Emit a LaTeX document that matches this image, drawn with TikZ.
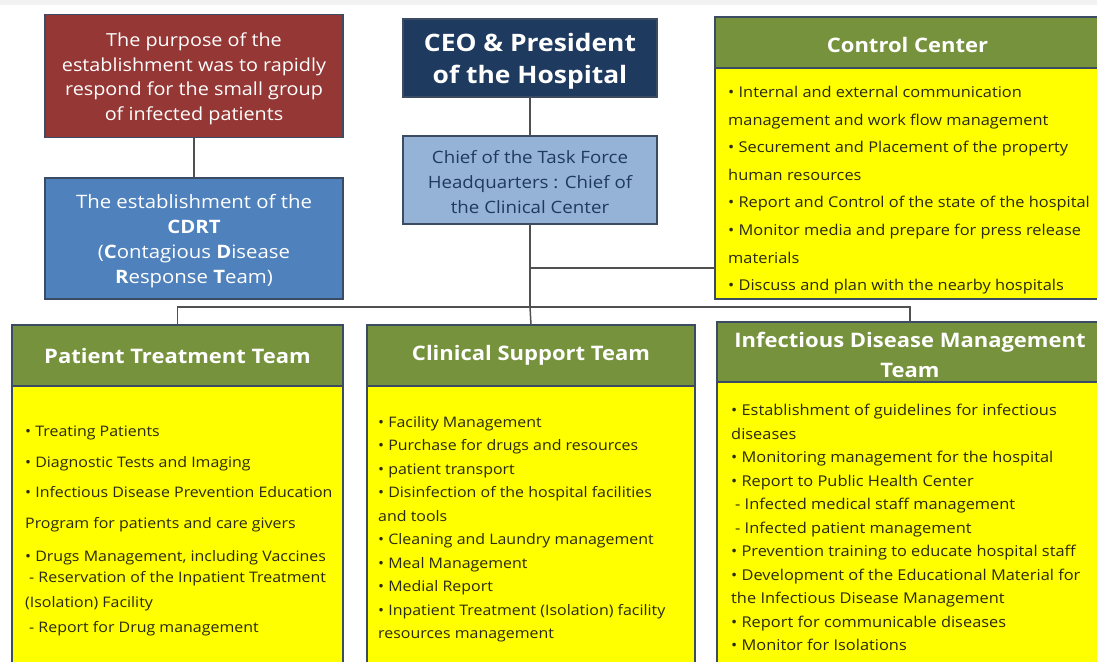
\documentclass[tikz,border=0pt]{standalone}
\usepackage{fontspec}
\setmainfont{Open Sans}[FakeStretch=1.1]
\usetikzlibrary{positioning}
\definecolor{purposered}{HTML}{953735}
\definecolor{cdrtblue}{HTML}{4F81BD}
\definecolor{ceonavy}{HTML}{1F3A5F}
\definecolor{chiefblue}{HTML}{95B3D7}
\definecolor{teamgreen}{HTML}{76923C}
\definecolor{listyellow}{HTML}{FFFF00}
\definecolor{edgeblue}{HTML}{3A4B63}
\definecolor{linkgray}{HTML}{505050}
\definecolor{listtext}{HTML}{2A2A10}
\newcommand{\lift}[1]{\rule{0pt}{#1}}

\begin{document}
\begin{tikzpicture}[x=1pt, y=-1pt,
  box/.style={rectangle, draw=edgeblue, line width=1.2pt, inner sep=0pt, outer sep=0pt, align=center},
  head/.style={box, fill=teamgreen, text=white, anchor=north west,
               font=\bfseries\fontsize{20}{30}\selectfont},
  body/.style={box, fill=listyellow, below=0pt of #1},
  list/.style={anchor=north west, inner sep=0pt, align=left, text=listtext,
               font=\fontsize{14.5}{23.5}\selectfont},
  link/.style={draw=linkgray, line width=1.5pt}
]
\clip (0,0) rectangle (1097,661);
\fill[gray!10] (0,0) rectangle (1097,5);

\node[box, fill=purposered, text=white, minimum width=298, minimum height=123,
      font=\fontsize{18}{24.5}\selectfont] (purpose) at (194,76)
  {\lift{19.5pt}The purpose of the\\establishment was to rapidly\\respond for the small group\\of infected patients};
\node[box, fill=cdrtblue, text=white, minimum width=298, minimum height=121,
      font=\fontsize{18.5}{25}\selectfont] (cdrt) at (194,238.5)
  {\lift{20pt}The establishment of the\\\textbf{CDRT}\\(\textbf{C}ontagious \textbf{D}isease\\\textbf{R}esponse \textbf{T}eam)};

\node[box, fill=ceonavy, text=white, minimum width=254, minimum height=78,
      font=\bfseries\fontsize{24}{32}\selectfont] (ceo) at (530,58)
  {\lift{24.5pt}CEO \& President\\of the Hospital};
\node[box, fill=chiefblue, text=ceonavy, minimum width=254, minimum height=88,
      font=\fontsize{17}{25}\selectfont] (chief) at (530,180)
  {\lift{17pt}Chief of the Task Force\\Headquarters : Chief of\\the Clinical Center};

\node[head, minimum width=385, minimum height=51] (cchead) at (715,17) {\lift{20pt}Control Center};
\node[body=cchead, minimum width=385, minimum height=231] (ccbody) {};
\node[list, font=\fontsize{14.9}{27.6}\selectfont, xshift=13pt, yshift=-18pt] (cclist) at (ccbody.north west)
  {• Internal and external communication\\
   management and work flow management\\
   • Securement and Placement of the property\\
   human resources\\
   • Report and Control of the state of the hospital\\
   • Monitor media and prepare for press release\\
   materials\\
   • Discuss and plan with the nearby hospitals};

\node[head, minimum width=331, minimum height=61] (ptthead) at (12,325) {Patient Treatment Team};
\node[body=ptthead, minimum width=331, minimum height=290] (pttbody) {};
\node[list, font=\fontsize{14.5}{25}\selectfont, xshift=13pt, yshift=-40pt] (pttlist) at (pttbody.north west)
  {• Treating Patients\\[6pt]
   • Diagnostic Tests and Imaging\\[5pt]
   • Infectious Disease Prevention Education\\[6pt]
   Program for patients and care givers\\[8pt]
   • Drugs Management, including Vaccines\\[-4pt]
   \hspace{4pt}- Reservation of the Inpatient Treatment\\
   (Isolation) Facility\\
   \hspace{4pt}- Report for Drug management};

\node[head, minimum width=328, minimum height=61] (csthead) at (367,325) {Clinical Support Team};
\node[body=csthead, minimum width=328, minimum height=290] (cstbody) {};
\node[list, xshift=11pt, yshift=-30pt] (cstlist) at (cstbody.north west)
  {• Facility Management\\
   • Purchase for drugs and resources\\
   • patient transport\\
   • Disinfection of the hospital facilities\\
   and tools\\
   • Cleaning and Laundry management\\
   • Meal Management\\
   • Medial Report\\
   • Inpatient Treatment (Isolation) facility\\
   resources management};

\node[head, minimum width=386, minimum height=60] (idmhead) at (717,322)
  {\lift{21.5pt}Infectious Disease Management\\Team};
\node[body=idmhead, minimum width=386, minimum height=290] (idmbody) {};
\node[list, font=\fontsize{14.9}{23.5}\selectfont, xshift=14pt, yshift=-22pt] (idmlist) at (idmbody.north west)
  {• Establishment of guidelines for infectious\\
   diseases\\
   • Monitoring management for the hospital\\
   • Report to Public Health Center\\
   \hspace{4pt}- Infected medical staff management\\
   \hspace{4pt}- Infected patient management\\
   • Prevention training to educate hospital staff\\
   • Development of the Educational Material for\\
   the Infectious Disease Management\\
   • Report for communicable diseases\\
   • Monitor for Isolations};

\coordinate (tap) at (530,268);
\coordinate (hub) at (530,307);
\draw[link] (purpose) -- (cdrt);
\draw[link] (ceo) -- (chief);
\draw[link] (chief) -- (hub);
\draw[link] (tap) -- (tap -| ccbody.west);
\draw[link] (ptthead.north) |- (hub) -| (idmhead.north);
\draw[link] (hub) -- (csthead.north);
\end{tikzpicture}
\end{document}
